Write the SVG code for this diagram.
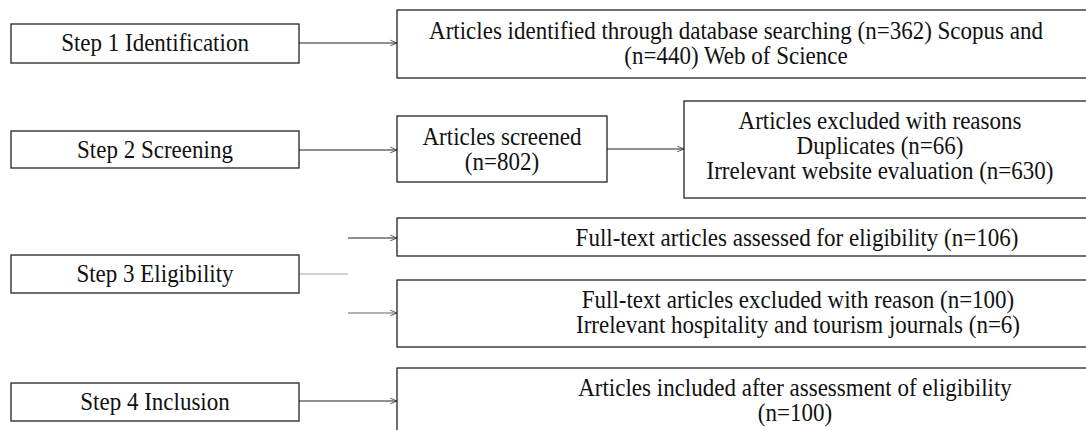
<svg xmlns="http://www.w3.org/2000/svg" width="1086" height="430" viewBox="0 0 1086 430">
<defs>
<style>
.box{fill:#fff;stroke:#222;stroke-width:1.3}
.t{font-family:"Liberation Serif","Times New Roman",serif;font-size:25px;fill:#111;text-anchor:middle}
.c{fill:none;stroke:#222;stroke-width:1.2}
</style>
<marker id="ah" viewBox="0 0 10 10" refX="9.5" refY="5" markerWidth="8" markerHeight="8" markerUnits="userSpaceOnUse" orient="auto">
<path d="M1,1.5 L9.5,5 L1,8.5" fill="none" stroke="#333" stroke-width="1"/>
</marker>
</defs>
<rect width="1086" height="430" fill="#fff"/>
<g id="connectors">
<line class="c" x1="299" y1="43" x2="397" y2="43" marker-end="url(#ah)"/>
<line class="c" x1="299" y1="150" x2="397" y2="150" marker-end="url(#ah)"/>
<line class="c" x1="607" y1="149" x2="684" y2="149" marker-end="url(#ah)"/>
<line class="c" x1="299" y1="274" x2="348" y2="274" style="stroke:#aaa"/>
<line class="c" x1="348" y1="238" x2="397" y2="238" marker-end="url(#ah)"/>
<line class="c" x1="348" y1="313" x2="397" y2="313" style="stroke:#666" marker-end="url(#ah)"/>
<line class="c" x1="299" y1="401" x2="397" y2="401" marker-end="url(#ah)"/>
</g>
<g id="step1"><rect class="box" x="11" y="24" width="288" height="39"/><text class="t" transform="translate(155,51) scale(0.92,1)">Step 1 Identification</text></g>
<g id="step2"><rect class="box" x="11" y="131" width="288" height="37"/><text class="t" transform="translate(155,158) scale(0.92,1)">Step 2 Screening</text></g>
<g id="step3"><rect class="box" x="11" y="255" width="288" height="38"/><text class="t" transform="translate(155,282) scale(0.92,1)">Step 3 Eligibility</text></g>
<g id="step4"><rect class="box" x="11" y="383" width="288" height="38"/><text class="t" transform="translate(155,410) scale(0.92,1)">Step 4 Inclusion</text></g>
<g id="identified"><rect class="box" x="397" y="10" width="720" height="68"/><text class="t" transform="translate(736,39) scale(0.92,1)">Articles identified through database searching (n=362) Scopus and</text><text class="t" transform="translate(736,64) scale(0.92,1)">(n=440) Web of Science</text></g>
<g id="screened"><rect class="box" x="397" y="116" width="210" height="66"/><text class="t" transform="translate(502,145) scale(0.92,1)">Articles screened</text><text class="t" transform="translate(502,170) scale(0.92,1)">(n=802)</text></g>
<g id="excluded"><rect class="box" x="684" y="101" width="440" height="97"/><text class="t" transform="translate(880,129) scale(0.92,1)">Articles excluded with reasons</text><text class="t" transform="translate(880,154) scale(0.92,1)">Duplicates (n=66)</text><text class="t" transform="translate(880,179) scale(0.92,1)">Irrelevant website evaluation (n=630)</text></g>
<g id="assessed"><rect class="box" x="397" y="218" width="720" height="38"/><text class="t" transform="translate(797,246) scale(0.92,1)">Full-text articles assessed for eligibility (n=106)</text></g>
<g id="excluded-reason"><rect class="box" x="397" y="280" width="720" height="67"/><text class="t" transform="translate(798,308) scale(0.92,1)">Full-text articles excluded with reason (n=100)</text><text class="t" transform="translate(798,333) scale(0.92,1)">Irrelevant hospitality and tourism journals (n=6)</text></g>
<g id="included"><rect class="box" x="397" y="368" width="720" height="80"/><text class="t" transform="translate(795,396) scale(0.92,1)">Articles included after assessment of eligibility</text><text class="t" transform="translate(795,421) scale(0.92,1)">(n=100)</text></g>
</svg>
